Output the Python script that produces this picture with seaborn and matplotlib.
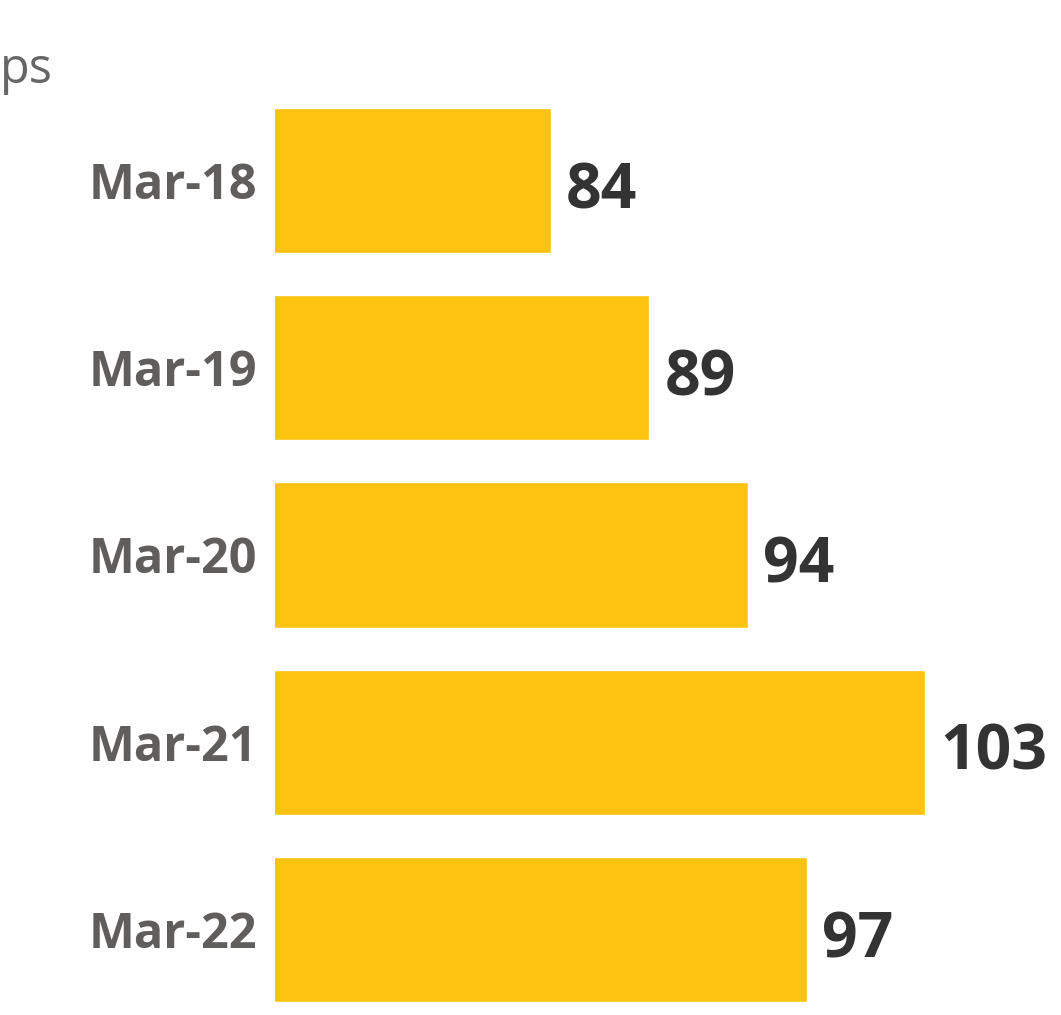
import matplotlib
matplotlib.use('Agg')
import matplotlib.pyplot as plt
import seaborn as sns
import pandas as pd

# data
dates = ['Mar-18', 'Mar-19', 'Mar-20', 'Mar-21', 'Mar-22']
values = [84, 89, 94, 103, 97]

bar_color = '#FEC310'
label_color = '#605E5C'
value_color = '#333333'

sns.set_style('white')
plt.rcParams['font.family'] = ['Open Sans', 'DejaVu Sans']

df = pd.DataFrame({'Date': dates, 'Value': values})

W, H = 1061, 1015
fig = plt.figure(figsize=(W / 100, H / 100), dpi=100)
# axes from x=275px to right edge, full height
ax = fig.add_axes([275 / W, 0, 1 - 275 / W, 1])

sns.barplot(data=df, x='Value', y='Date', color=bar_color, width=0.775,
            saturation=1, ax=ax)

ax.set_xlim(70, 109.9)
ax.set_ylim(4.457, -0.964)
sns.despine(ax=ax, left=True, bottom=True)
ax.set_xticks([])
ax.set_xlabel('')
ax.set_ylabel('')
ax.tick_params(axis='y', length=0, pad=13, labelsize=35, labelcolor=label_color)
for t in ax.get_yticklabels():
    t.set_fontweight('bold')

for i, v in enumerate(values):
    ax.annotate(str(v), xy=(v, i), xytext=(11, -8), textcoords='offset points',
                ha='left', va='center', fontsize=45, fontweight='bold',
                color=value_color, clip_on=False)

# subtitle fragment visible at top-left of the crop
fig.text(0, 1 - 70 / H, 'ps', ha='left', va='center', fontsize=35,
         color='#666666')

fig.savefig('out.png', dpi=100)
